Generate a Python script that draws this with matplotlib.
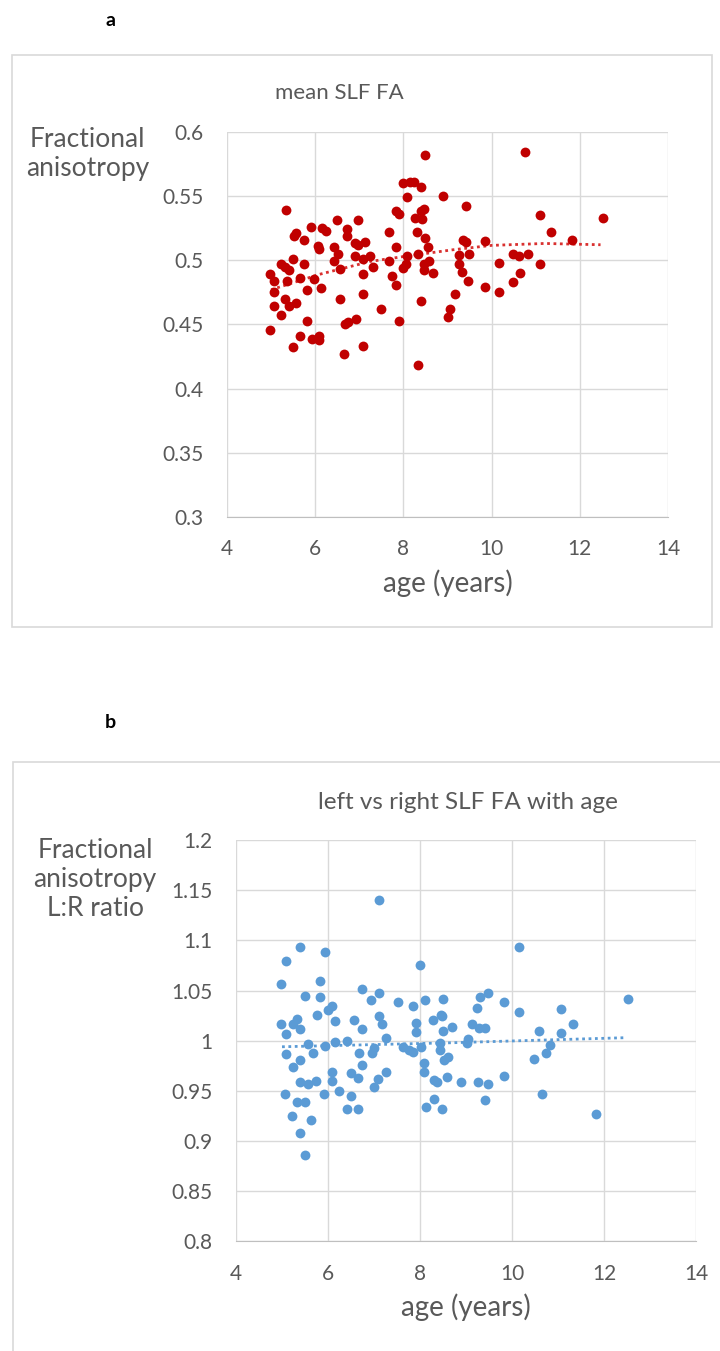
import matplotlib
matplotlib.use("Agg")
import matplotlib.pyplot as plt
from matplotlib.patches import Rectangle

plt.rcParams['font.family'] = ['Lato', 'DejaVu Sans']

# panel a: mean SLF FA against age
age_a = [8.48, 7.98, 8.15, 8.24, 8.41, 8.09, 8.90, 9.41, 5.33, 7.83, 7.89, 8.47, 8.40, 8.26, 8.42,
         5.91, 6.15, 6.24, 6.49, 6.98, 5.51, 5.56, 5.75, 6.72, 6.72, 7.67, 8.31, 6.07, 6.08, 6.42,
         6.91, 6.98, 7.14, 6.51, 8.48, 8.56, 7.83, 9.34, 5.23, 5.32, 5.40, 4.97, 5.06, 5.49, 5.75,
         5.65, 5.36, 5.98, 6.14, 5.81, 5.06, 6.42, 6.57, 6.91, 7.08, 7.24, 7.08, 7.31, 7.67, 8.09,
         8.05, 7.98, 8.32, 8.47, 8.57, 8.47, 8.66, 7.73, 7.83, 9.25, 9.27, 9.33, 9.46, 5.06, 5.31,
         5.40, 5.57, 5.23, 7.08, 6.57, 7.50, 8.41, 9.17, 9.06, 9.00, 7.90, 5.81, 4.97, 6.67, 6.74,
         6.93, 5.66, 5.92, 6.09, 6.09, 5.49, 7.08, 6.66, 8.33, 10.76, 11.09, 12.52, 11.35, 11.83,
         9.85, 9.41, 9.48, 10.17, 10.49, 10.61, 10.82, 11.09, 10.65, 10.49, 9.85, 10.17]
fa_a = [0.582, 0.560, 0.561, 0.561, 0.557, 0.549, 0.550, 0.542, 0.539, 0.538, 0.536, 0.540, 0.538,
        0.533, 0.532, 0.526, 0.525, 0.523, 0.531, 0.531, 0.519, 0.521, 0.516, 0.524, 0.519, 0.522,
        0.522, 0.511, 0.509, 0.510, 0.513, 0.512, 0.514, 0.505, 0.517, 0.510, 0.510, 0.516, 0.497,
        0.495, 0.492, 0.489, 0.484, 0.501, 0.497, 0.486, 0.484, 0.485, 0.478, 0.477, 0.475, 0.499,
        0.493, 0.503, 0.501, 0.503, 0.489, 0.495, 0.499, 0.503, 0.497, 0.494, 0.505, 0.497, 0.499,
        0.492, 0.490, 0.488, 0.481, 0.504, 0.497, 0.491, 0.484, 0.464, 0.470, 0.464, 0.467, 0.457,
        0.474, 0.470, 0.462, 0.468, 0.474, 0.462, 0.456, 0.453, 0.453, 0.446, 0.450, 0.452, 0.454,
        0.441, 0.439, 0.441, 0.438, 0.432, 0.433, 0.427, 0.418, 0.584, 0.535, 0.533, 0.522, 0.516,
        0.515, 0.514, 0.505, 0.498, 0.505, 0.503, 0.505, 0.497, 0.490, 0.483, 0.479, 0.475]
trend_x_a = [5.0, 6.1, 7.25, 8.04, 9.1, 10.0, 11.2, 12.47]
trend_y_a = [0.477, 0.489, 0.499, 0.503, 0.508, 0.5115, 0.513, 0.512]

# panel b: left/right FA ratio against age
age_b = [7.10, 5.39, 5.08, 5.93, 8.01, 4.97, 5.82, 5.50, 5.82, 6.74, 6.94, 7.10, 7.53, 7.85, 8.11,
         8.50, 5.76, 5.99, 6.08, 4.97, 5.08, 5.24, 5.33, 5.40, 6.15, 6.57, 6.74, 7.10, 7.17, 7.91,
         7.91, 8.28, 8.46, 8.51, 8.70, 7.26, 5.56, 5.93, 6.15, 6.41, 5.08, 5.40, 5.67, 6.68, 6.95,
         6.99, 7.64, 7.75, 7.85, 8.02, 8.43, 8.43, 8.52, 8.61, 9.03, 5.24, 6.74, 8.09, 10.16, 12.52,
         9.30, 9.47, 9.83, 9.24, 10.16, 11.07, 8.47, 9.14, 9.28, 9.41, 10.58, 11.07, 11.33, 9.05,
         10.82, 10.74, 10.47, 8.09, 5.39, 5.56, 5.74, 5.07, 5.91, 6.08, 6.08, 6.24, 6.51, 6.66,
         6.49, 6.41, 6.66, 6.99, 7.08, 7.25, 5.32, 5.50, 5.22, 5.64, 5.40, 5.49, 8.31, 8.38, 8.58,
         8.89, 8.14, 8.31, 8.47, 9.25, 9.47, 9.83, 9.42, 10.66, 11.82]
ratio_b = [1.140, 1.093, 1.079, 1.088, 1.075, 1.057, 1.060, 1.045, 1.044, 1.052, 1.041, 1.048, 1.039,
           1.035, 1.041, 1.042, 1.026, 1.031, 1.035, 1.017, 1.007, 1.017, 1.022, 1.012, 1.020, 1.021,
           1.012, 1.025, 1.017, 1.018, 1.009, 1.021, 1.026, 1.010, 1.014, 1.003, 0.997, 0.995, 0.999,
           1.000, 0.987, 0.981, 0.988, 0.988, 0.988, 0.993, 0.994, 0.991, 0.989, 0.994, 0.998, 0.991,
           0.981, 0.984, 0.998, 0.974, 0.976, 0.978, 1.093, 1.042, 1.044, 1.048, 1.039, 1.033, 1.029,
           1.032, 1.025, 1.017, 1.013, 1.013, 1.010, 1.008, 1.017, 1.002, 0.996, 0.988, 0.982, 0.969,
           0.959, 0.957, 0.960, 0.947, 0.947, 0.969, 0.960, 0.950, 0.968, 0.963, 0.945, 0.932, 0.932,
           0.954, 0.962, 0.969, 0.939, 0.939, 0.925, 0.921, 0.908, 0.886, 0.961, 0.959, 0.964, 0.959,
           0.934, 0.942, 0.932, 0.959, 0.957, 0.965, 0.941, 0.947, 0.927]
trend_x_b = [5.0, 8.7, 10.16, 12.44]
trend_y_b = [0.994, 0.998, 1.000, 1.003]

x_ticks = [4, 6, 8, 10, 12, 14]
y_ticks_a = [0.3, 0.35, 0.4, 0.45, 0.5, 0.55, 0.6]
y_ticks_b = [0.8, 0.85, 0.9, 0.95, 1.0, 1.05, 1.1, 1.15, 1.2]

TXT = '#595959'
GRID = '#d9d9d9'


def style_axes(ax, yticks):
    ax.set_xlim(4, 14)
    ax.set_ylim(yticks[0], yticks[-1])
    ax.set_xticks(x_ticks)
    ax.set_yticks(yticks)
    ax.set_yticklabels(['%g' % v for v in yticks])
    ax.grid(True, color=GRID, lw=1)
    ax.set_axisbelow(True)
    for s in ['top', 'right', 'left']:
        ax.spines[s].set_visible(False)
    ax.spines['bottom'].set_color('#bfbfbf')
    ax.tick_params(length=0, labelsize=15, labelcolor=TXT, pad=17)
    ax.tick_params(axis='x', pad=16)


fig = plt.figure(figsize=(7.2, 13.51), dpi=100)

# frames round each chart
fig.patches.append(Rectangle((0.017, 0.536), 0.972, 0.423, transform=fig.transFigure,
                             fill=False, edgecolor=GRID, lw=1.2))
fig.patches.append(Rectangle((0.018, -0.01), 1.0, 0.446, transform=fig.transFigure,
                             fill=False, edgecolor=GRID, lw=1.2))

ax1 = fig.add_axes([0.3153, 0.6173, 0.6125, 0.2852])
style_axes(ax1, y_ticks_a)
ax1.scatter(age_a, fa_a, s=50, color='#C00000', zorder=3, linewidths=0)
ax1.plot(trend_x_a, trend_y_a, ls=(0, (1, 1.3)), color='#d9302f', lw=2, zorder=2)
ax1.set_xlabel('age (years)', fontsize=20, color=TXT, labelpad=7)

ax2 = fig.add_axes([0.3278, 0.0811, 0.6389, 0.2971])
style_axes(ax2, y_ticks_b)
ax2.scatter(age_b, ratio_b, s=50, color='#5B9BD5', zorder=3, linewidths=0)
ax2.plot(trend_x_b, trend_y_b, ls=(0, (1, 1.3)), color='#5B9BD5', lw=2, zorder=2)
ax2.set_xlabel('age (years)', fontsize=20, color=TXT, labelpad=7)

fig.text(0.153, 0.985, 'a', fontsize=14, fontweight='bold', ha='center', va='center')
fig.text(0.153, 0.465, 'b', fontsize=14, fontweight='bold', ha='center', va='center')
fig.text(0.472, 0.931, 'mean SLF FA', fontsize=16, color=TXT, ha='center', va='center')
fig.text(0.65, 0.406, 'left vs right SLF FA with age', fontsize=17.5, color=TXT,
         ha='center', va='center')
fig.text(0.122, 0.886, 'Fractional\nanisotropy', fontsize=19, color=TXT,
         ha='center', va='center', linespacing=1.2)
fig.text(0.132, 0.349, 'Fractional\nanisotropy\nL:R ratio', fontsize=19, color=TXT,
         ha='center', va='center', linespacing=1.2)

fig.savefig('out.png', dpi=100)
